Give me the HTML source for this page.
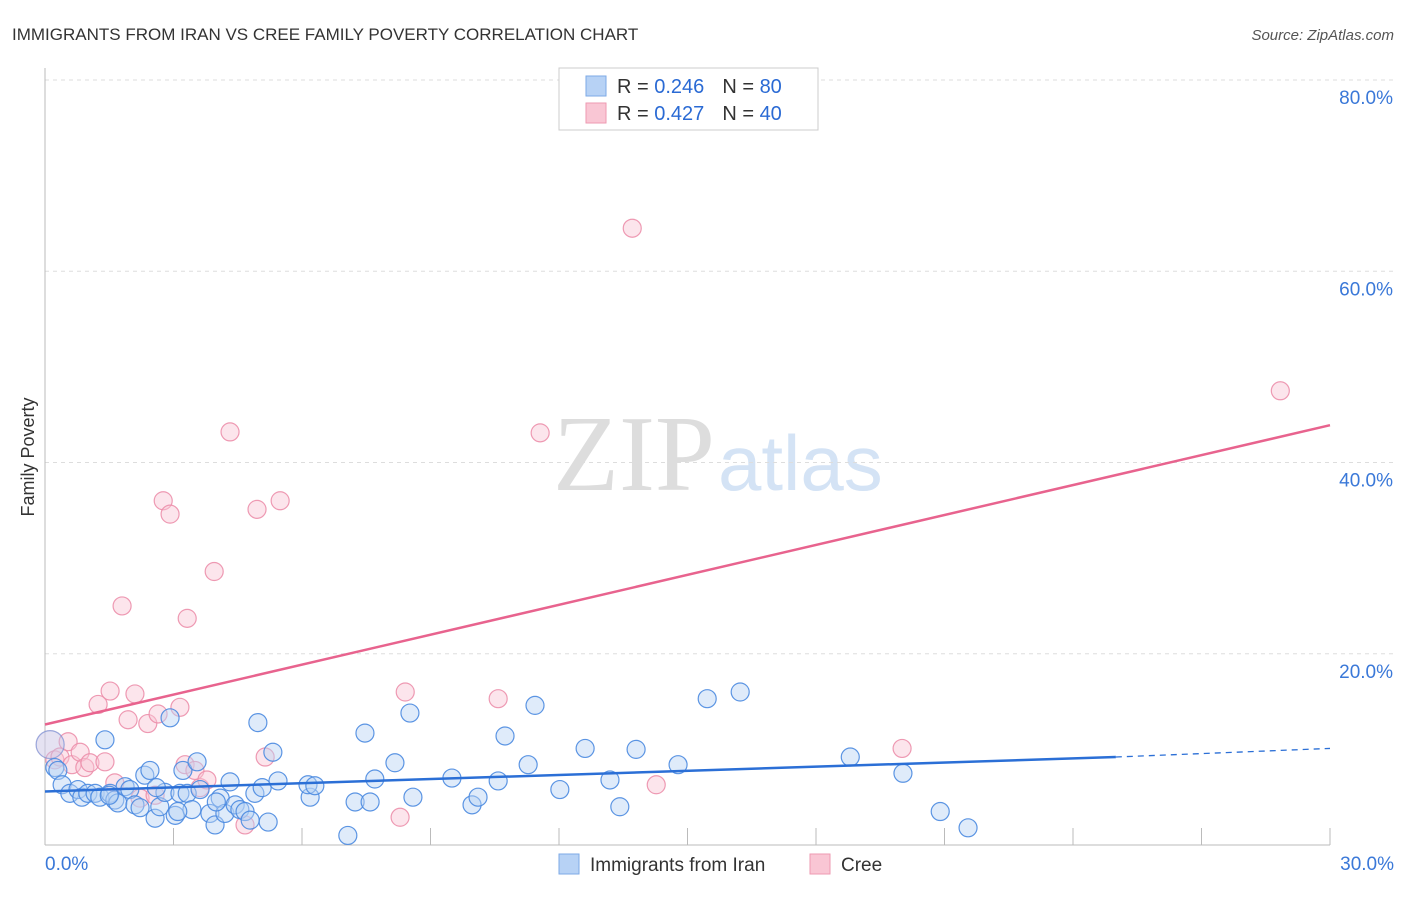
<!DOCTYPE html>
<html><head><meta charset="utf-8"><style>
body{margin:0;background:#fff;font-family:"Liberation Sans",sans-serif;}
svg text{font-family:"Liberation Sans",sans-serif;}
</style></head><body>
<svg id="chart" width="1406" height="892" xmlns="http://www.w3.org/2000/svg">
<text x="12" y="40" font-size="17" fill="#333">IMMIGRANTS FROM IRAN VS CREE FAMILY POVERTY CORRELATION CHART</text>
<text x="1394" y="40" font-size="15" fill="#555" text-anchor="end" font-style="italic">Source: ZipAtlas.com</text>
<text x="34" y="457" font-size="18" fill="#333" text-anchor="middle" transform="rotate(-90 34 457)">Family Poverty</text>
<text x="553" y="490" font-size="108" fill="#ddd" style="font-family:'Liberation Serif',serif">ZIP</text>
<text x="718" y="490" font-size="78" fill="#d4e3f5">atlas</text>
<g id="grid"></g><g id="axes"></g><g id="pts"></g><g id="trends"></g>
<g>
<rect x="559" y="68" width="259" height="62" fill="#fff" stroke="#ccc"/>
<rect x="586" y="76" width="20" height="20" fill="#b7d2f5" stroke="#7eaae6"/>
<text x="617" y="93" font-size="20" fill="#333">R = <tspan fill="#2a6ad4">0.246</tspan><tspan dx="18">N = </tspan><tspan fill="#2a6ad4">80</tspan></text>
<rect x="586" y="103" width="20" height="20" fill="#f9c6d4" stroke="#ee9ab2"/>
<text x="617" y="120" font-size="20" fill="#333">R = <tspan fill="#2a6ad4">0.427</tspan><tspan dx="18">N = </tspan><tspan fill="#2a6ad4">40</tspan></text>
</g>
<g>
<rect x="559" y="854" width="20" height="20" fill="#b7d2f5" stroke="#7eaae6"/>
<text x="590" y="871" font-size="19" fill="#333">Immigrants from Iran</text>
<rect x="810" y="854" width="20" height="20" fill="#f9c6d4" stroke="#ee9ab2"/>
<text x="841" y="871" font-size="19" fill="#333">Cree</text>
</g>
</svg>
<script>
const yTicks=[20,40,60,80];
const yTickLabels=["20.0%","40.0%","60.0%","80.0%"];
const xTickLabels=["0.0%","30.0%"];
const iranX=[0.12,0.23,0.3,0.4,0.58,0.77,0.86,1.0,1.17,1.28,1.4,1.52,1.63,1.7,1.87,1.98,2.1,2.22,2.33,2.45,2.57,2.68,2.8,2.92,3.04,3.15,3.22,3.32,3.43,3.55,3.62,3.85,3.97,4.09,4.2,4.32,4.44,4.55,4.67,4.79,4.9,4.97,5.07,5.21,5.32,5.44,6.19,6.14,7.07,7.24,7.47,7.59,7.7,8.17,8.52,8.59,9.5,9.97,10.11,10.58,10.74,11.28,11.44,12.02,12.61,13.19,13.42,13.8,14.78,15.46,16.23,18.8,20.03,20.9,21.55,1.5,2.6,4.0,6.3,3.1];
const iranY=[10.5,8.1,7.8,6.3,5.4,5.8,5.0,5.4,5.4,5.0,11.0,5.4,4.7,4.4,6.1,5.8,4.2,3.9,7.3,7.8,2.8,4.0,5.5,13.3,3.1,5.4,7.8,5.4,3.7,8.7,5.8,3.3,2.1,4.9,3.3,6.6,4.2,3.7,3.5,2.6,5.4,12.8,6.0,2.4,9.7,6.7,5.0,6.3,1.0,4.5,11.7,4.5,6.9,8.6,13.8,5.0,7.0,4.2,5.0,6.7,11.4,8.4,14.6,5.8,10.1,6.8,4.0,10.0,8.4,15.3,16.0,9.2,7.5,3.5,1.8,5.2,6.0,4.5,6.2,3.5];
const creeX=[0.12,0.23,0.35,0.54,0.63,0.82,0.93,1.05,1.24,1.4,1.52,1.63,1.8,1.94,2.1,2.22,2.4,2.57,2.64,2.76,2.92,3.15,3.32,3.27,3.5,3.62,3.78,3.95,4.32,4.67,4.95,5.14,5.49,8.29,8.41,10.58,11.56,13.71,14.27,20.01,28.84];
const creeY=[10.5,8.9,9.2,10.8,8.4,9.7,8.1,8.6,14.7,8.7,16.1,6.5,25.0,13.1,15.8,4.9,12.7,5.2,13.7,36.0,34.6,14.4,23.7,8.4,7.8,6.0,6.8,28.6,43.2,2.1,35.1,9.2,36.0,2.9,16.0,15.3,43.1,64.5,6.3,10.1,47.5];
const iranTrend=[5.6,9.2,10.1];
const creeTrend=[12.6,43.9];
const NS="http://www.w3.org/2000/svg";
const X0=45,X1=1330,Y0=845,Y80=80;
function sx(v){return X0+v/30*(X1-X0);}
function sy(v){return Y0-v/80*(Y0-Y80);}
function mk(tag,attrs,parent){const e=document.createElementNS(NS,tag);for(const k in attrs)e.setAttribute(k,attrs[k]);parent.appendChild(e);return e;}
const grid=document.getElementById('grid'),axes=document.getElementById('axes'),pts=document.getElementById('pts'),tr=document.getElementById('trends');
yTicks.forEach((t,i)=>{
 const l=mk('line',{x1:X0,x2:1394,y1:sy(t),y2:sy(t),stroke:'#ddd','stroke-dasharray':'4,4'},grid);
 
 
 const tx=mk('text',{x:1393,y:sy(t)+24,'font-size':19,fill:'#3a78d8','text-anchor':'end'},axes);
 tx.textContent=yTickLabels[i];
 
 
});
const ya=mk('line',{x1:X0,x2:X0,y1:68,y2:Y0,stroke:'#bbb'},axes);


const xa=mk('line',{x1:X0,x2:X1,y1:Y0,y2:Y0,stroke:'#bbb'},axes);


for(let i=1;i<=10;i++){
 const t=mk('line',{x1:sx(i*3),x2:sx(i*3),y1:828,y2:Y0,stroke:'#bbb'},axes);
 
 
}
[[0,'start',45],[30,'end',1394]].forEach((d,i)=>{
 const tx=mk('text',{x:d[2],y:870,'font-size':19,fill:'#3a78d8','text-anchor':d[1]},axes);
 tx.textContent=xTickLabels[i];
 
 
});
function dots(xs,ys,fill,stroke,name){
 xs.forEach((x,i)=>{
  const c=mk('circle',{cx:sx(x),cy:sy(ys[i]),r:i===0?14:9,fill:fill,'fill-opacity':i===0?0.35:0.45,stroke:stroke,'stroke-width':1.2,'stroke-opacity':i===0?0.5:0.9},pts);
  
  
 });
}
dots(creeX,creeY,'#f9c6d4','#ec8fab','cree-point');
dots(iranX,iranY,'#b7d2f5','#4a8ae0','iran-point');
const bl=mk('line',{x1:sx(0),y1:sy(iranTrend[0]),x2:sx(25),y2:sy(iranTrend[1]),stroke:'#2b6fd6','stroke-width':2.5},tr);


const bd=mk('line',{x1:sx(25),y1:sy(iranTrend[1]),x2:sx(30),y2:sy(iranTrend[2]),stroke:'#2b6fd6','stroke-width':1.3,'stroke-dasharray':'6,5'},tr);


const pl=mk('line',{x1:sx(0),y1:sy(creeTrend[0]),x2:sx(30),y2:sy(creeTrend[1]),stroke:'#e8638e','stroke-width':2.5},tr);


</script>
</body></html>
